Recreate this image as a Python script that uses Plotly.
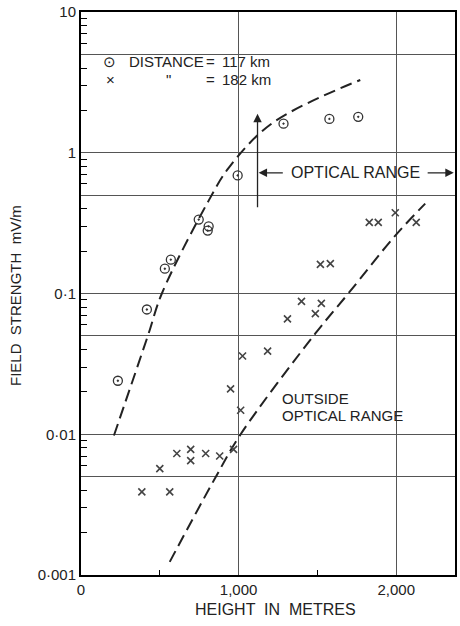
import math
import plotly.graph_objects as go

# measured field strength, distance 117 km (circles)
height_117 = [234, 418, 532, 570, 747, 804, 810, 994, 1285, 1576, 1759]
field_117 = [0.024, 0.077, 0.150, 0.174, 0.335, 0.28, 0.30, 0.69, 1.61, 1.74, 1.80]

# measured field strength, distance 182 km (crosses)
height_182 = [386, 563, 500, 608, 696, 696, 791, 880, 968, 1013, 949, 1025,
              1184, 1310, 1487, 1399, 1525, 1519, 1582, 1829, 1886, 1994, 2127]
field_182 = [0.0039, 0.0039, 0.0057, 0.0073, 0.0078, 0.0065, 0.0073, 0.0070,
             0.0078, 0.0148, 0.021, 0.036, 0.039, 0.066, 0.072, 0.088, 0.085,
             0.161, 0.163, 0.32, 0.32, 0.375, 0.32]

# dashed trend curves
curve_117_h = [209, 424, 513, 810, 937, 1209, 1772]
curve_117_f = [0.0098, 0.05, 0.1, 0.457, 0.78, 1.61, 3.29]
curve_182_h = [563, 854, 1013, 1487, 1696, 1994, 2184]
curve_182_f = [0.00124, 0.00495, 0.01, 0.052, 0.1, 0.258, 0.435]

x_ticks = [0, 1000, 2000]
x_labels = ["0", "1,000", "2,000"]
y_grid = [0.001, 0.005, 0.01, 0.05, 0.1, 0.5, 1, 5, 10]
y_labels = ["0·001", "", "0·01", "", "0·1", "", "1", "", "10"]

INK = "#222"
FONT = "Liberation Sans, Arial, sans-serif"
dash = "12px,6px"

fig = go.Figure()

fig.add_trace(go.Scatter(
    x=curve_117_h, y=curve_117_f, mode="lines", line_shape="spline",
    line=dict(color=INK, width=2, dash=dash), hoverinfo="skip"))
fig.add_trace(go.Scatter(
    x=curve_182_h, y=curve_182_f, mode="lines", line_shape="spline",
    line=dict(color=INK, width=2, dash=dash), hoverinfo="skip"))

fig.add_trace(go.Scatter(
    x=height_117, y=field_117, mode="markers", name="117 km",
    marker=dict(symbol="circle-open-dot", size=9, color="#333",
                line=dict(width=1.3))))
fig.add_trace(go.Scatter(
    x=height_182, y=field_182, mode="markers", name="182 km",
    marker=dict(symbol="x-thin", size=7, color="#444",
                line=dict(width=1.6, color="#444"))))

ann_font = dict(family=FONT, size=15, color=INK)
L = math.log10
row1, row2 = L(4.42), L(3.29)

annotations = [
    # legend
    dict(x=180, y=row1, text="⊙", xanchor="center"),
    dict(x=290, y=row1, text="DISTANCE", xanchor="left"),
    dict(x=820, y=row1, text="=", xanchor="center"),
    dict(x=885, y=row1, text="117 km", xanchor="left"),
    dict(x=185, y=row2, text="×", xanchor="center"),
    dict(x=555, y=row2, text="\"", xanchor="center"),
    dict(x=820, y=row2, text="=", xanchor="center"),
    dict(x=885, y=row2, text="182 km", xanchor="left"),
    # range labels
    dict(x=1740, y=L(0.72), text="OPTICAL RANGE", xanchor="center",
         font=dict(family=FONT, size=16, color=INK)),
    dict(x=1262, y=L(0.0179), text="OUTSIDE", xanchor="left"),
    dict(x=1262, y=L(0.0136), text="OPTICAL RANGE", xanchor="left"),
]
for a in annotations:
    a.setdefault("font", ann_font)
    a.update(xref="x", yref="y", showarrow=False, yanchor="middle")

# arrows
arrow_style = dict(xref="x", yref="y", axref="x", ayref="y", text="",
                   showarrow=True, arrowhead=2, arrowsize=1.3, arrowwidth=1.3,
                   arrowcolor=INK)
annotations += [
    dict(x=1120, y=L(1.89), ax=1120, ay=L(0.40), **arrow_style),
    dict(x=1127, y=L(0.72), ax=1290, ay=L(0.72), **arrow_style),
    dict(x=2365, y=L(0.72), ax=2190, ay=L(0.72), **arrow_style),
    # axis titles
    dict(xref="paper", yref="paper", x=-0.205, y=0.497, text="FIELD  STRENGTH  mV/m",
         textangle=-90, showarrow=False, font=dict(family=FONT, size=15, color=INK)),
    dict(xref="paper", yref="paper", x=0.52, y=-0.062, text="HEIGHT  IN  METRES",
         showarrow=False, yanchor="middle", font=dict(family=FONT, size=16, color=INK)),
]

minor_y = [m * 10 ** k for k in range(-3, 1) for m in (2, 3, 4, 6, 7, 8, 9)]

fig.update_layout(
    width=460, height=626,
    margin=dict(l=81, r=3, t=11, b=51),
    paper_bgcolor="white", plot_bgcolor="white",
    showlegend=False,
    annotations=annotations,
    xaxis=dict(
        range=[0, 2373], tickmode="array", tickvals=x_ticks, ticktext=x_labels,
        showgrid=True, gridcolor="#555", gridwidth=1, zeroline=False,
        showline=True, linecolor="black", linewidth=2, mirror=True,
        ticks="", tickfont=dict(family=FONT, size=15, color=INK),
        minor=dict(tickmode="array", tickvals=[500, 1500], ticks="inside",
                   ticklen=5, tickcolor="black", showgrid=False),
    ),
    yaxis=dict(
        type="log", range=[-3, 1], tickmode="array", tickvals=y_grid,
        ticktext=y_labels, showgrid=True, gridcolor="#555", gridwidth=1,
        zeroline=False, showline=True, linecolor="black", linewidth=2,
        mirror=True, ticks="", tickfont=dict(family=FONT, size=15, color=INK),
        minor=dict(tickmode="array", tickvals=minor_y, ticks="inside",
                   ticklen=6, tickcolor="black", showgrid=False),
    ),
)

fig.write_html("out.html", config={"displayModeBar": False},
               post_script="document.body.style.margin='0';")
